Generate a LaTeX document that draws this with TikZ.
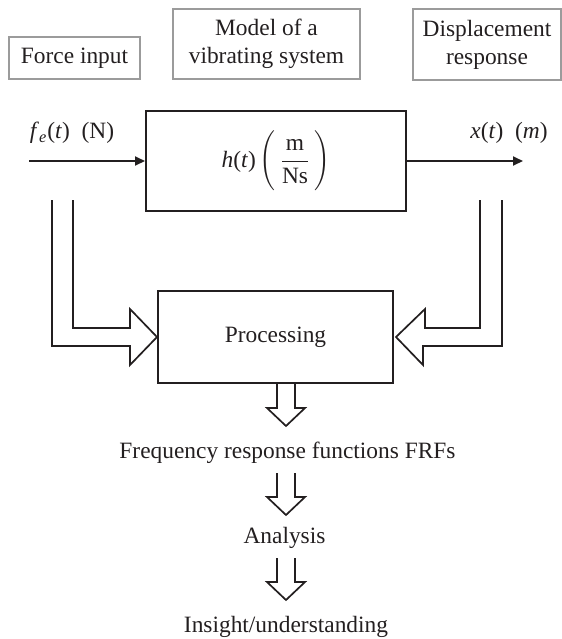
\documentclass[tikz,border=0pt]{standalone}
\usepackage{fontspec}
\setmainfont{Liberation Serif}
\usetikzlibrary{arrows.meta}
\definecolor{ink}{HTML}{231F20}
\definecolor{frame}{HTML}{9B9B9B}
\begin{document}
\begin{tikzpicture}[x=.5pt,y=-.5pt,line width=1pt,color=ink,font=\fontsize{11.7}{14}\selectfont,
 tag/.style={draw=frame,line width=.8pt,align=center,inner sep=0pt},
 block/.style={draw,inner sep=0pt},
 hollow/.style={line width=.85pt},
 sig/.style={-{Triangle[length=5pt,width=4.5pt]}}]
 \useasboundingbox (0,0) rectangle (562,639);
 % descriptive tags
 \node[tag,minimum width=65.5pt,minimum height=21pt] (fin) at (74.5,58) {Force input};
 \node[tag,minimum width=93.5pt,minimum height=35pt] (mdl) at (266.5,44) {Model of a\\vibrating system};
 \node[tag,minimum width=74pt,minimum height=35.5pt] (dsp) at (487,44.5) {Displacement\\response};
 % system and processing
 \node[block,minimum width=130pt,minimum height=50pt] (sys) at (276,161) {\textit{h}(\textit{t})\,$\Biggl(\,\displaystyle\frac{\mbox{m}}{\mbox{Ns}}\,\Biggr)$};
 \node[block,minimum width=117.5pt,minimum height=46pt] (prc) at (275.5,337) {Processing};
 \coordinate (fsrc) at (29,161); \coordinate (xend) at (523,161);
 \draw[sig] (fsrc) -- (sys.west);
 \draw[sig] (sys.east) -- (xend);
 \node (flab) at (72,133) {\textit{f}\textsubscript{\textit{e}}(\textit{t})\enspace(N)};
 \node (xlab) at (509,133) {\textit{x}(\textit{t})\enspace(\textit{m})};
 % hollow feeds into processing
 \coordinate (lo) at (52,200); \coordinate (li) at (73,200);
 \coordinate (ro) at (502,200); \coordinate (ri) at (480,200);
 \draw[hollow] (lo) |- ([shift={(-27,9)}]prc.west) -- ++(0,19) -- (prc.west) -- ++(-27,-28) -- ++(0,19) -| (li);
 \draw[hollow] (ro) |- ([shift={(29,9)}]prc.east) -- ++(0,19) -- ([xshift=1]prc.east) -- ++(29,-28) -- ++(0,19) -| (ri);
 % results chain
 \node[anchor=base] (frf) at (287.5,458) {Frequency response functions FRFs};
 \node[anchor=base] (ana) at (284.5,543) {Analysis};
 \node[anchor=base] (ins) at (286,632) {Insight/understanding};
 \coordinate (d1) at (prc.south -| 286,0); \coordinate (d2) at (286,473); \coordinate (d3) at (286,558);
 \foreach \d in {d1,d2,d3}{\draw[hollow] (\d) ++(-9,0) -- ++(0,24) -- ++(-10,0) -- ++(19,18) -- ++(19,-18) -- ++(-10,0) -- ++(0,-24);}
\end{tikzpicture}
\end{document}
